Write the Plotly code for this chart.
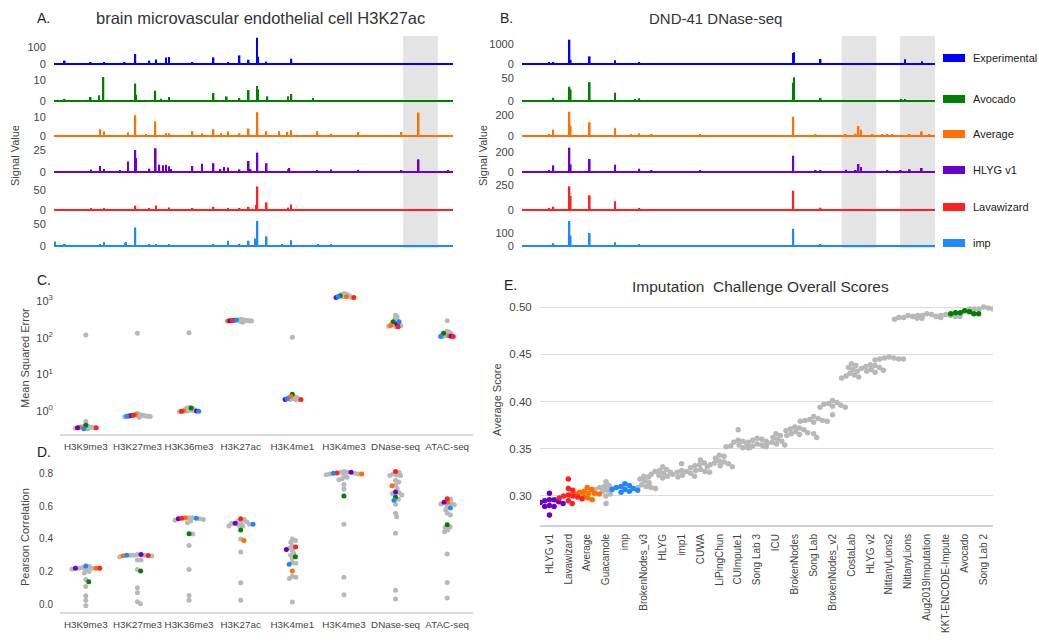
import math
import plotly.graph_objects as go

W, H = 1039, 643

# ---------------- data ----------------
track_names = ["Experimental", "Avocado", "Average", "HLYG v1", "Lavawizard", "imp"]
track_colors = ["#0000ff", "#008000", "#ff7000", "#6a00cc", "#ff2020", "#1e88ff"]

# Panel A: brain microvascular endothelial cell H3K27ac (position in 0-1000 window, signal)
a_exp_pos = [27, 92, 126, 177, 204, 239, 256, 281, 288, 347, 400, 437, 465, 488, 509, 512, 532, 595]
a_exp_val = [20, 10, 6, 6, 59, 20, 27, 39, 41, 12, 39, 6, 51, 25, 155, 43, 14, 31]
a_avo_pos = [27, 92, 113, 124, 204, 206, 254, 268, 288, 400, 433, 465, 488, 509, 512, 535, 587, 595, 649]
a_avo_val = [1.0, 1.9, 2.7, 11.4, 8.3, 3.0, 4.9, 1.1, 1.9, 3.8, 2.2, 1.4, 5.2, 7.1, 5.5, 2.2, 2.2, 3.3, 1.4]
a_avg_pos = [115, 125, 186, 204, 231, 254, 281, 289, 347, 371, 400, 419, 436, 465, 488, 510, 532, 564,
             584, 594, 660, 695, 763, 871, 914]
a_avg_val = [3.5, 2.3, 1.9, 10.9, 1.0, 7.7, 1.6, 1.4, 2.5, 1.4, 3.5, 1.4, 2.3, 1.4, 3.9, 12.5, 2.5, 2.5,
             2.1, 3.0, 2.5, 1.2, 2.1, 2.1, 12.3]
a_hlyg_pos = [93, 115, 125, 165, 186, 204, 206, 239, 255, 264, 273, 281, 288, 293, 347, 371, 400, 417,
              426, 436, 465, 488, 493, 510, 533, 587, 590, 660, 695, 763, 871, 914, 987]
a_hlyg_val = [2.7, 6.8, 3.5, 2.0, 12, 25, 16, 3.8, 27, 8.3, 7.6, 8.3, 6.4, 3.5, 6.8, 9.5, 10, 3.5,
              5.7, 5.0, 3.0, 12.5, 3.5, 22, 10, 3.0, 4.5, 2.0, 3.0, 2.5, 1.5, 14.4, 1.5]
a_lava_pos = [93, 125, 204, 239, 256, 288, 347, 400, 436, 465, 488, 507, 510, 533, 587, 594]
a_lava_val = [3, 3, 11, 4, 11, 6, 3, 8, 5, 3, 8, 13, 59, 19, 6, 14]
a_imp_pos = [2, 27, 115, 125, 178, 181, 204, 239, 256, 288, 400, 436, 465, 488, 505, 510, 533, 572,
             594, 663, 695, 914]
a_imp_val = [10, 3, 3, 9, 7, 9, 42, 3, 3, 3, 3, 12, 5, 12, 17, 57, 22, 3, 13, 4, 3, 2]
a_tick_max = [100, 10, 10, 25, 50, 50]
a_range_max = [165, 13.3, 14.7, 31.8, 70, 63.6]
a_shaded = [(875, 962)]

# Panel B: DND-41 DNase-seq
b_exp_pos = [66, 76, 115, 118, 164, 225, 284, 657, 659, 723, 927, 969]
b_exp_val = [67, 67, 1217, 217, 383, 183, 67, 550, 583, 250, 233, 133]
b_avo_pos = [76, 115, 118, 164, 225, 274, 284, 403, 585, 657, 659, 723, 919, 927]
b_avo_val = [7, 31, 25, 41, 18, 3, 6, 2, 2, 40, 52, 7, 3, 4]
b_avg_pos = [66, 76, 115, 118, 164, 225, 264, 284, 314, 432, 657, 711, 784, 808, 815, 821, 849, 873,
             885, 897, 939, 968, 986]
b_avg_val = [19, 60, 232, 98, 130, 73, 16, 25, 10, 19, 184, 13, 12, 22, 95, 60, 16, 13, 12, 12, 19, 44, 10]
b_hlyg_pos = [66, 76, 115, 118, 164, 225, 284, 314, 432, 657, 711, 723, 785, 808, 815, 821, 849, 885,
              917, 939, 968, 974]
b_hlyg_val = [20, 67, 243, 77, 130, 73, 33, 13, 13, 163, 20, 13, 23, 17, 80, 50, 10, 17, 17, 27, 40, 10]
b_lava_pos = [66, 76, 115, 118, 164, 225, 284, 657, 723, 968]
b_lava_val = [17, 33, 237, 140, 147, 87, 17, 193, 23, 10]
b_imp_pos = [76, 115, 118, 164, 225, 284, 657, 723]
b_imp_val = [21, 192, 79, 100, 29, 13, 132, 10]
b_tick_max = [1000, 50, 200, 200, 250, 100]
b_range_max = [1400, 61, 267, 280, 280, 215]
b_shaded = [(774, 858), (915, 1000)]

# Panels C / D: per-assay scores
assays = ["H3K9me3", "H3K27me3", "H3K36me3", "H3K27ac", "H3K4me1", "H3K4me3", "DNase-seq", "ATAC-seq"]
highlight_teams = ["Avocado", "Average", "HLYG v1", "Lavawizard", "imp"]
highlight_colors = ["#008000", "#ff7000", "#6a00cc", "#ff2020", "#1e88ff"]
grey = "#b8b8b8"

mse_other = [
    [0.33, 0.34, 0.35, 0.35, 0.36, 0.36, 0.37, 0.38, 0.39, 0.52, 118],
    [0.68, 0.70, 0.71, 0.72, 0.73, 0.74, 0.75, 0.77, 0.80, 0.85, 131],
    [0.95, 1.0, 1.02, 1.05, 1.08, 1.1, 1.15, 1.2, 1.25, 137],
    [265, 275, 285, 290, 295, 300, 305, 310, 320],
    [2.0, 2.05, 2.1, 2.15, 2.2, 2.3, 2.35, 2.45, 2.5, 102],
    [1250, 1300, 1350, 1400, 1450, 1500, 1550, 1600],
    [200, 205, 210, 220, 230, 240, 250, 270, 290, 310, 340, 370, 410],
    [110, 115, 120, 125, 130, 135, 140, 150, 290],
]
mse_avocado = [0.41, 0.75, 1.21, 300, 2.85, 1400, 270, 131]
mse_average = [0.36, 0.80, 1.00, 285, 2.5, 1300, 215, 112]
mse_hlyg_v1 = [0.35, 0.73, 1.00, 290, 2.05, 1250, 232, 110]
mse_lavawizard = [0.35, 0.77, 0.98, 295, 2.05, 1250, 198, 107]
mse_imp = [0.33, 0.72, 0.98, 305, 2.15, 1320, 270, 107]

pearson_other = [
    [0.23, 0.225, 0.22, 0.22, 0.215, 0.21, 0.20, 0.19, 0.15, 0.107, 0.051, 0.023, -0.01],
    [0.305, 0.30, 0.30, 0.30, 0.295, 0.29, 0.27, 0.27, 0.213, 0.10, 0.07, 0.014, 0.002],
    [0.53, 0.53, 0.525, 0.52, 0.515, 0.51, 0.50, 0.43, 0.36, 0.213, 0.053, 0.023],
    [0.52, 0.51, 0.505, 0.50, 0.495, 0.49, 0.485, 0.48, 0.48, 0.40, 0.32, 0.13, 0.023],
    [0.40, 0.39, 0.38, 0.36, 0.345, 0.33, 0.31, 0.30, 0.28, 0.255, 0.25, 0.17, 0.165, 0.157, 0.012],
    [0.815, 0.81, 0.81, 0.805, 0.80, 0.80, 0.795, 0.79, 0.78, 0.77, 0.765, 0.736, 0.708, 0.49, 0.164, 0.057],
    [0.81, 0.80, 0.794, 0.79, 0.79, 0.76, 0.75, 0.73, 0.71, 0.685, 0.68, 0.67, 0.644, 0.613, 0.558,
     0.537, 0.435, 0.084, 0.031],
    [0.645, 0.62, 0.615, 0.61, 0.60, 0.58, 0.558, 0.548, 0.476, 0.47, 0.455, 0.445, 0.308, 0.133, 0.037],
]
pearson_avocado = [0.137, 0.203, 0.433, 0.455, 0.29, 0.665, 0.658, 0.488]
pearson_average = [0.22, 0.297, 0.53, 0.39, 0.203, 0.80, 0.728, 0.626]
pearson_hlyg_v1 = [0.22, 0.304, 0.525, 0.497, 0.336, 0.81, 0.689, 0.626]
pearson_lavawizard = [0.22, 0.298, 0.527, 0.525, 0.35, 0.806, 0.816, 0.648]
pearson_imp = [0.234, 0.30, 0.528, 0.49, 0.244, 0.804, 0.638, 0.59]

# Panel E: overall scores (bootstrap samples per team)
e_methods = ["HLYG v1", "Lavawizard", "Average", "Guacamole", "imp", "BrokenNodes_v3", "HLYG", "imp1",
             "CUWA", "LiPingChun", "CUImpute1", "Song Lab 3", "ICU", "BrokenNodes", "Song Lab",
             "BrokenNodes_v2", "CostaLab", "HLYG v2", "NittanyLions2", "NittanyLions",
             "Aug2019Imputation", "KKT-ENCODE-Impute", "Avocado", "Song Lab 2"]
e_scores = [
    [0.303, 0.296, 0.296, 0.295, 0.294, 0.293, 0.292, 0.290, 0.289, 0.289, 0.280],
    [0.318, 0.308, 0.306, 0.301, 0.300, 0.300, 0.299, 0.298, 0.297, 0.295, 0.292],
    [0.309, 0.307, 0.305, 0.304, 0.303, 0.303, 0.302, 0.302, 0.301, 0.300, 0.298, 0.296],
    [0.315, 0.311, 0.310, 0.309, 0.308, 0.307, 0.306, 0.305, 0.302, 0.300, 0.292],
    [0.313, 0.311, 0.310, 0.309, 0.308, 0.307, 0.307, 0.306, 0.305, 0.304],
    [0.321, 0.320, 0.318, 0.316, 0.314, 0.312, 0.310, 0.309, 0.309, 0.308, 0.308],
    [0.331, 0.328, 0.327, 0.326, 0.325, 0.324, 0.323, 0.322, 0.321, 0.319],
    [0.334, 0.327, 0.326, 0.325, 0.324, 0.323, 0.322, 0.321, 0.320],
    [0.338, 0.335, 0.333, 0.332, 0.331, 0.330, 0.328, 0.327, 0.326, 0.325],
    [0.343, 0.342, 0.340, 0.337, 0.336, 0.335, 0.334, 0.333, 0.332, 0.331],
    [0.370, 0.359, 0.358, 0.357, 0.355, 0.354, 0.353, 0.352, 0.351, 0.351],
    [0.361, 0.360, 0.359, 0.358, 0.357, 0.355, 0.354, 0.353, 0.352, 0.351],
    [0.366, 0.364, 0.362, 0.360, 0.358, 0.357, 0.356, 0.355, 0.354, 0.353],
    [0.373, 0.372, 0.371, 0.370, 0.369, 0.368, 0.367, 0.366, 0.365, 0.364],
    [0.384, 0.382, 0.381, 0.380, 0.380, 0.379, 0.379, 0.378, 0.366, 0.362],
    [0.401, 0.399, 0.398, 0.397, 0.396, 0.395, 0.394, 0.394, 0.386],
    [0.440, 0.438, 0.436, 0.434, 0.432, 0.430, 0.428, 0.427, 0.426, 0.425],
    [0.439, 0.438, 0.437, 0.436, 0.435, 0.434, 0.433, 0.432, 0.431],
    [0.447, 0.446, 0.446, 0.445, 0.445, 0.445, 0.444],
    [0.491, 0.490, 0.489, 0.489, 0.488, 0.488, 0.487],
    [0.493, 0.492, 0.491, 0.491, 0.490, 0.490, 0.489],
    [0.492, 0.491, 0.491, 0.490, 0.490, 0.490],
    [0.496, 0.495, 0.494, 0.493, 0.493, 0.493, 0.494],
    [0.500, 0.499, 0.498, 0.498, 0.498, 0.498, 0.498],
]

# ---------------- helpers ----------------
FONT = "Arial, 'Liberation Sans', sans-serif"
TXT = "#444444"
DARK = "#222222"


def X(px):
    return px / W


def Y(py):
    return 1 - py / H


def swarm(vals_px, diam):
    """Beeswarm horizontal offsets (pixels) for points at vertical pixel positions."""
    order = sorted(range(len(vals_px)), key=lambda i: -vals_px[i])
    placed = []
    offs = [0.0] * len(vals_px)
    for i in order:
        y = vals_px[i]
        cands = [0.0]
        for (px, py) in placed:
            dy = y - py
            if abs(dy) < diam:
                dx = math.sqrt(diam * diam - dy * dy)
                cands += [px + dx, px - dx]
        cands.sort(key=abs)
        for c in cands:
            if all((c - px) ** 2 + (y - py) ** 2 >= diam * diam - 1e-6 for px, py in placed):
                offs[i] = c
                break
        placed.append((offs[i], y))
    return offs


fig = go.Figure()
layout = dict(
    width=W, height=H, margin=dict(l=0, r=0, t=0, b=0),
    paper_bgcolor="white", plot_bgcolor="rgba(0,0,0,0)", showlegend=False,
    font=dict(family=FONT, size=11, color=TXT),
)
shapes = []
annotations = []

# ---------------- panels A & B: signal tracks ----------------
baselines = [64, 101, 136, 172, 210, 246]
panel_specs = [
    (54, 453, [(a_exp_pos, a_exp_val), (a_avo_pos, a_avo_val), (a_avg_pos, a_avg_val),
               (a_hlyg_pos, a_hlyg_val), (a_lava_pos, a_lava_val), (a_imp_pos, a_imp_val)],
     a_range_max, a_tick_max, a_shaded),
    (522, 935, [(b_exp_pos, b_exp_val), (b_avo_pos, b_avo_val), (b_avg_pos, b_avg_val),
                (b_hlyg_pos, b_hlyg_val), (b_lava_pos, b_lava_val), (b_imp_pos, b_imp_val)],
     b_range_max, b_tick_max, b_shaded),
]
ax = 0
for (x0, x1, tracks, rmax, tmax, shaded) in panel_specs:
    first_ax = ax + 1
    for i, (pos, val) in enumerate(tracks):
        ax += 1
        sfx = "" if ax == 1 else str(ax)
        b = baselines[i]
        fig.add_trace(go.Bar(x=pos, y=val, width=4, marker=dict(color=track_colors[i], line=dict(width=0)),
                             xaxis="x" + sfx, yaxis="y" + sfx, hoverinfo="skip", name=track_names[i]))
        layout["xaxis" + sfx] = dict(domain=[X(x0), X(x1)], range=[0, 1000], visible=False,
                                     anchor="y" + sfx, fixedrange=True)
        layout["yaxis" + sfx] = dict(
            domain=[Y(b + 2), Y(b - 28)], range=[-rmax[i] * 2 / 28, rmax[i]], anchor="x" + sfx,
            tickvals=[0, tmax[i]], ticktext=["0", str(tmax[i])], showgrid=False,
            zeroline=True, zerolinecolor=track_colors[i], zerolinewidth=2, showline=False,
            ticks="outside", ticklen=5, tickcolor="rgba(0,0,0,0)",
            tickfont=dict(size=11, color=TXT), fixedrange=True, automargin=False)
    for (s0, s1) in shaded:
        shapes.append(dict(type="rect", xref="x" + ("" if first_ax == 1 else str(first_ax)), yref="paper",
                           x0=s0, x1=s1, y0=Y(248), y1=Y(36), fillcolor="#e4e4e4",
                           line=dict(width=0), layer="below"))

# legend for tracks
legend_rows = [58, 99, 134, 170, 207, 243]
for i, name in enumerate(track_names):
    shapes.append(dict(type="rect", xref="paper", yref="paper", x0=X(943), x1=X(965),
                       y0=Y(legend_rows[i] + 4), y1=Y(legend_rows[i] - 4),
                       fillcolor=track_colors[i], line=dict(width=0)))
    annotations.append(dict(text=name, x=X(971), y=Y(legend_rows[i]), xref="paper", yref="paper",
                            xanchor="left", yanchor="middle", showarrow=False,
                            font=dict(size=11, color=DARK)))


# ---------------- panels C & D: strip/beeswarm ----------------
def add_strip(axn, others, team_vals, to_px, px_per_cat, diam, msize):
    sfx = str(axn)
    gx, gy = [], []
    tx = [[] for _ in highlight_teams]
    ty = [[] for _ in highlight_teams]
    for ci in range(len(assays)):
        vals = list(others[ci]) + [tv[ci] for tv in team_vals]
        offs = swarm([to_px(v) for v in vals], diam)
        n_o = len(others[ci])
        for k, v in enumerate(vals):
            xv = ci + offs[k] / px_per_cat
            if k < n_o:
                gx.append(xv); gy.append(v)
            else:
                tx[k - n_o].append(xv); ty[k - n_o].append(v)
    fig.add_trace(go.Scatter(x=gx, y=gy, mode="markers", marker=dict(color=grey, size=msize),
                             xaxis="x" + sfx, yaxis="y" + sfx, hoverinfo="skip"))
    for t in range(len(highlight_teams)):
        fig.add_trace(go.Scatter(x=tx[t], y=ty[t], mode="markers",
                                 marker=dict(color=highlight_colors[t], size=msize),
                                 xaxis="x" + sfx, yaxis="y" + sfx, name=highlight_teams[t],
                                 hoverinfo="skip"))


cat_axis = dict(range=[-0.5, 7.5], tickvals=list(range(len(assays))), ticktext=assays, tickangle=0,
                showgrid=False, zeroline=False, showline=True, linecolor="#d9d9d9", linewidth=2,
                ticks="outside", ticklen=2, tickcolor="rgba(0,0,0,0)", tickfont=dict(size=9.8, color=TXT),
                fixedrange=True, automargin=False)

# C: MSE (log)
C_DEC = 36.67
add_strip(13, mse_other, [mse_avocado, mse_average, mse_hlyg_v1, mse_lavawizard, mse_imp],
          lambda v: C_DEC * math.log10(v), 413 / 8, 2.2, 5)
layout["xaxis13"] = dict(cat_axis, domain=[X(60), X(473)], anchor="y13")
layout["yaxis13"] = dict(type="log", domain=[Y(434), Y(290)], range=[-0.627, 3.3], anchor="x13",
                         tickvals=[1, 10, 100, 1000],
                         ticktext=["10<sup>0</sup>", "10<sup>1</sup>", "10<sup>2</sup>", "10<sup>3</sup>"],
                         showgrid=False, zeroline=False, showline=False, ticks="outside", ticklen=4,
                         tickcolor="rgba(0,0,0,0)", tickfont=dict(size=11, color=TXT),
                         fixedrange=True, automargin=False)

# D: Pearson
D_SC = 162.5
add_strip(14, pearson_other,
          [pearson_avocado, pearson_average, pearson_hlyg_v1, pearson_lavawizard, pearson_imp],
          lambda v: D_SC * v, 413 / 8, 3.6, 5)
layout["xaxis14"] = dict(cat_axis, domain=[X(60), X(473)], anchor="y14")
layout["yaxis14"] = dict(domain=[Y(612), Y(460)], range=[-0.0492, 0.886], anchor="x14",
                         tickvals=[0, 0.2, 0.4, 0.6, 0.8], tickformat=".1f",
                         showgrid=False, zeroline=False, showline=False, ticks="outside", ticklen=4,
                         tickcolor="rgba(0,0,0,0)", tickfont=dict(size=10, color=TXT),
                         fixedrange=True, automargin=False)

# ---------------- panel E ----------------
E_SC = 945.0
team_color = {t: c for t, c in zip(highlight_teams, highlight_colors)}
ex_by_color = {}
for mi, m in enumerate(e_methods):
    offs = swarm([E_SC * v for v in e_scores[mi]], 4.8)
    col = team_color.get(m, grey)
    d = ex_by_color.setdefault(col, ([], []))
    for k, v in enumerate(e_scores[mi]):
        d[0].append(mi + offs[k] / (453 / 24))
        d[1].append(v)
for col in [grey] + highlight_colors:
    if col in ex_by_color:
        xs, ys = ex_by_color[col]
        fig.add_trace(go.Scatter(x=xs, y=ys, mode="markers", marker=dict(color=col, size=5.5),
                                 xaxis="x15", yaxis="y15", hoverinfo="skip"))
layout["xaxis15"] = dict(domain=[X(540), X(993)], range=[-0.5, 23.5], anchor="y15",
                         tickvals=list(range(len(e_methods))), ticktext=e_methods, tickangle=-90,
                         showgrid=False, zeroline=False, showline=True, linecolor="#d0d0d0", linewidth=2,
                         ticks="outside", ticklen=3, tickcolor="rgba(0,0,0,0)",
                         tickfont=dict(size=10, color=TXT), fixedrange=True, automargin=False)
layout["yaxis15"] = dict(domain=[Y(525), Y(297)], range=[0.2693, 0.5106], anchor="x15",
                         tickvals=[0.30, 0.35, 0.40, 0.45, 0.50], tickformat=".2f",
                         showgrid=True, gridcolor="#dcdcdc", gridwidth=1, zeroline=False, showline=False,
                         ticks="outside", ticklen=5, tickcolor="rgba(0,0,0,0)",
                         tickfont=dict(size=11.5, color=TXT), fixedrange=True, automargin=False)


# ---------------- text ----------------
def note(text, x, y, size=11, color=TXT, xanchor="center", angle=0):
    annotations.append(dict(text=text, x=X(x), y=Y(y), xref="paper", yref="paper", xanchor=xanchor,
                            yanchor="middle", showarrow=False, textangle=angle,
                            font=dict(size=size, color=color)))


note("A.", 35, 18, 14, DARK, "left")
note("brain microvascular endothelial cell H3K27ac", 260, 18, 16.5, "#333333")
note("B.", 498, 18, 14, DARK, "left")
note("DND-41 DNase-seq", 715, 18, 15, "#333333")
note("Signal Value", 15, 156, 11, TXT, angle=-90)
note("Signal Value", 483, 156, 11, TXT, angle=-90)
note("C.", 35, 280, 14, DARK, "left")
note("Mean Squared Error", 25, 358, 11, TXT, angle=-90)
note("D.", 35, 452, 14, DARK, "left")
note("Pearson Correlation", 25, 537, 11, TXT, angle=-90)
note("E.", 502, 285, 14, DARK, "left")
note("Imputation\u00a0 Challenge Overall Scores", 760, 286, 15.5, "#333333")
note("Average Score", 497, 400, 11, TXT, angle=-90)

layout["shapes"] = shapes
layout["annotations"] = annotations
fig.update_layout(**layout)
fig.write_html("out.html", config={"displayModeBar": False},
               post_script="document.body.style.margin='0px';")
